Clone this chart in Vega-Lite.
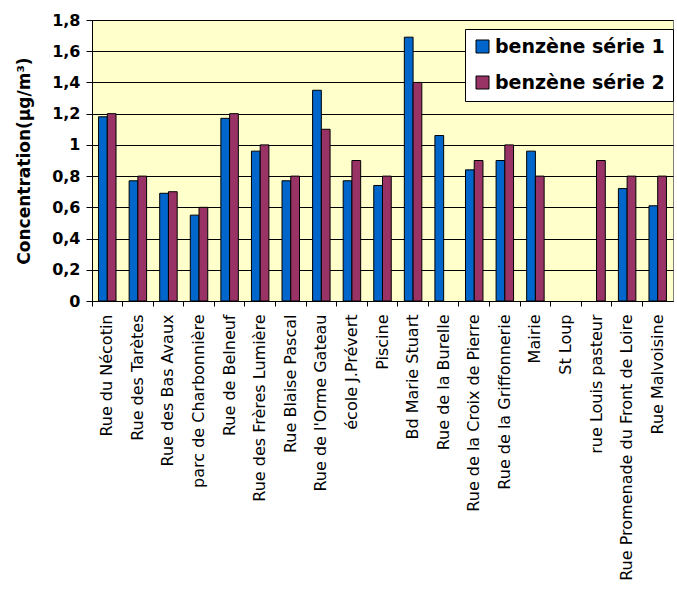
{
  "$schema": "https://vega.github.io/schema/vega-lite/v6.json",
  "autosize": {"type": "none"},
  "width": 581,
  "height": 281,
  "padding": {"left": 92, "top": 20, "right": 4, "bottom": 294},
  "background": "white",
  "data": {
    "values": [
      {"site": "Rue du Nécotin", "serie": "benzène série 1", "value": 1.18},
      {"site": "Rue du Nécotin", "serie": "benzène série 2", "value": 1.20},
      {"site": "Rue des Tarètes", "serie": "benzène série 1", "value": 0.77},
      {"site": "Rue des Tarètes", "serie": "benzène série 2", "value": 0.80},
      {"site": "Rue des Bas Avaux", "serie": "benzène série 1", "value": 0.69},
      {"site": "Rue des Bas Avaux", "serie": "benzène série 2", "value": 0.70},
      {"site": "parc de Charbonnière", "serie": "benzène série 1", "value": 0.55},
      {"site": "parc de Charbonnière", "serie": "benzène série 2", "value": 0.60},
      {"site": "Rue de Belneuf", "serie": "benzène série 1", "value": 1.17},
      {"site": "Rue de Belneuf", "serie": "benzène série 2", "value": 1.20},
      {"site": "Rue des Frères Lumière", "serie": "benzène série 1", "value": 0.96},
      {"site": "Rue des Frères Lumière", "serie": "benzène série 2", "value": 1.00},
      {"site": "Rue Blaise Pascal", "serie": "benzène série 1", "value": 0.77},
      {"site": "Rue Blaise Pascal", "serie": "benzène série 2", "value": 0.80},
      {"site": "Rue de l'Orme Gateau", "serie": "benzène série 1", "value": 1.35},
      {"site": "Rue de l'Orme Gateau", "serie": "benzène série 2", "value": 1.10},
      {"site": "école J.Prévert", "serie": "benzène série 1", "value": 0.77},
      {"site": "école J.Prévert", "serie": "benzène série 2", "value": 0.90},
      {"site": "Piscine", "serie": "benzène série 1", "value": 0.74},
      {"site": "Piscine", "serie": "benzène série 2", "value": 0.80},
      {"site": "Bd Marie Stuart", "serie": "benzène série 1", "value": 1.69},
      {"site": "Bd Marie Stuart", "serie": "benzène série 2", "value": 1.40},
      {"site": "Rue de la Burelle", "serie": "benzène série 1", "value": 1.06},
      {"site": "Rue de la Croix de Pierre", "serie": "benzène série 1", "value": 0.84},
      {"site": "Rue de la Croix de Pierre", "serie": "benzène série 2", "value": 0.90},
      {"site": "Rue de la Griffonnerie", "serie": "benzène série 1", "value": 0.90},
      {"site": "Rue de la Griffonnerie", "serie": "benzène série 2", "value": 1.00},
      {"site": "Mairie", "serie": "benzène série 1", "value": 0.96},
      {"site": "Mairie", "serie": "benzène série 2", "value": 0.80},
      {"site": "rue Louis pasteur", "serie": "benzène série 2", "value": 0.90},
      {"site": "Rue Promenade du Front de Loire", "serie": "benzène série 1", "value": 0.72},
      {"site": "Rue Promenade du Front de Loire", "serie": "benzène série 2", "value": 0.80},
      {"site": "Rue Malvoisine", "serie": "benzène série 1", "value": 0.61},
      {"site": "Rue Malvoisine", "serie": "benzène série 2", "value": 0.80}
    ]
  },
  "mark": {"type": "bar", "stroke": "black", "strokeWidth": 1},
  "encoding": {
    "x": {
      "field": "site",
      "type": "nominal",
      "scale": {
        "domain": ["Rue du Nécotin", "Rue des Tarètes", "Rue des Bas Avaux", "parc de Charbonnière", "Rue de Belneuf", "Rue des Frères Lumière", "Rue Blaise Pascal", "Rue de l'Orme Gateau", "école J.Prévert", "Piscine", "Bd Marie Stuart", "Rue de la Burelle", "Rue de la Croix de Pierre", "Rue de la Griffonnerie", "Mairie", "St Loup", "rue Louis pasteur", "Rue Promenade du Front de Loire", "Rue Malvoisine"],
        "paddingInner": 0,
        "paddingOuter": 0
      },
      "axis": {
        "title": null,
        "bandPosition": 0,
        "labelAngle": 270,
        "labelAlign": "right",
        "labelBaseline": "middle",
        "labelFont": "DejaVu Sans",
        "labelFontSize": 16,
        "labelColor": "black",
        "labelPadding": 8,
        "tickSize": 5,
        "tickColor": "black",
        "domainColor": "black",
        "grid": false,
        "labelLimit": 0
      }
    },
    "xOffset": {
      "field": "serie",
      "type": "nominal",
      "scale": {"paddingInner": 0, "paddingOuter": 0.75}
    },
    "y": {
      "field": "value",
      "type": "quantitative",
      "scale": {"domain": [0, 1.8], "nice": false},
      "axis": {
        "title": "Concentration(µg/m³)",
        "titleFont": "DejaVu Sans",
        "titleFontSize": 17,
        "titleFontWeight": "bold",
        "titleColor": "black",
        "titlePadding": 18,
        "values": [0, 0.2, 0.4, 0.6, 0.8, 1, 1.2, 1.4, 1.6, 1.8],
        "labelExpr": "replace(format(datum.value, '.1~f'), '.', ',')",
        "labelFont": "DejaVu Sans",
        "labelFontSize": 16,
        "labelFontWeight": "bold",
        "labelColor": "black",
        "labelPadding": 6,
        "tickSize": 6,
        "tickColor": "black",
        "domainColor": "black",
        "grid": true,
        "gridColor": "black",
        "gridOpacity": 1,
        "gridWidth": 1
      }
    },
    "color": {
      "field": "serie",
      "type": "nominal",
      "scale": {"domain": ["benzène série 1", "benzène série 2"], "range": ["#0066CC", "#993366"]},
      "legend": {
        "title": null,
        "orient": "none",
        "legendX": 373,
        "legendY": 9,
        "fillColor": "white",
        "strokeColor": "black",
        "padding": 8,
        "rowPadding": 16,
        "symbolType": "square",
        "symbolSize": 169,
        "symbolStrokeColor": "black",
        "symbolStrokeWidth": 1,
        "symbolOpacity": 1,
        "labelFont": "DejaVu Sans",
        "labelFontSize": 19,
        "labelFontWeight": "bold",
        "labelColor": "black",
        "labelOffset": 3,
        "labelLimit": 0
      }
    }
  },
  "config": {
    "view": {"fill": "#FFFFCC", "stroke": "#808080", "strokeWidth": 1}
  }
}
